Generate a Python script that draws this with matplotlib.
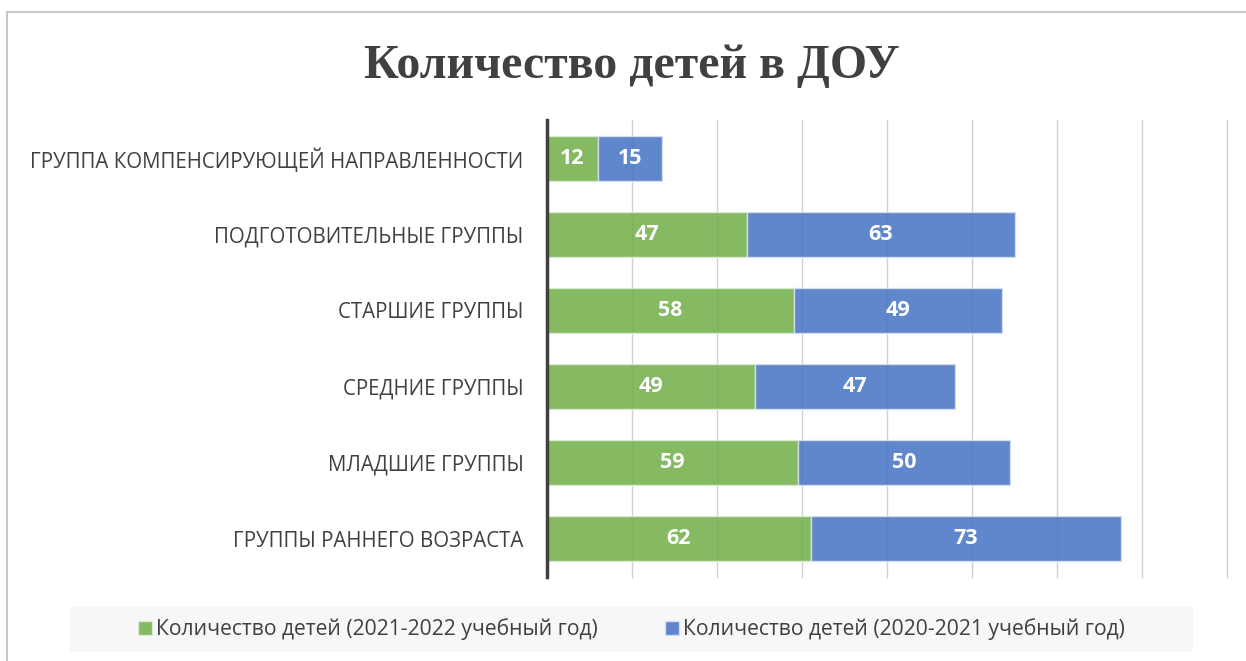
# Horizontal stacked bar chart: number of children in preschool groups
import matplotlib.pyplot as plt
from matplotlib.patches import Rectangle

# Data:
categories = ["ГРУППА КОМПЕНСИРУЮЩЕЙ НАПРАВЛЕННОСТИ", "ПОДГОТОВИТЕЛЬНЫЕ ГРУППЫ",
              "СТАРШИЕ ГРУППЫ", "СРЕДНИЕ ГРУППЫ", "МЛАДШИЕ ГРУППЫ",
              "ГРУППЫ РАННЕГО ВОЗРАСТА"]
children_2122 = [12, 47, 58, 49, 59, 62]
children_2021 = [15, 63, 49, 47, 50, 73]
series_names = ["Количество детей (2021-2022 учебный год)",
                "Количество детей (2020-2021 учебный год)"]

plt.rcParams['font.family'] = ['Open Sans', 'DejaVu Sans']

fig = plt.figure(figsize=(12.46, 6.61), dpi=100)
# outer chart frame
fig.patches.append(Rectangle((7 / 1246, -0.1), 1.2, 1 - 12 / 661 + 0.1,
                             transform=fig.transFigure, fill=False,
                             edgecolor='#C8C8C8', linewidth=1.5))
ax = fig.add_axes([547 / 1246, 1 - 577 / 661, 680 / 1246, 457 / 661])

y = list(range(len(categories)))
green = ax.barh(y, children_2122, height=0.59, color='#70AD47', alpha=0.85,
                edgecolor='#E2F0D9', linewidth=1, label=series_names[0], zorder=3)
blue = ax.barh(y, children_2021, left=children_2122, height=0.59, color='#4472C4',
               alpha=0.85, edgecolor='#DAE3F3', linewidth=1, label=series_names[1], zorder=3)

# value labels
for bars in (green, blue):
    ax.bar_label(bars, label_type='center', color='white', fontsize=15.5,
                 fontweight='bold', zorder=5)

ax.set_xlim(0, 160)
ax.set_ylim(len(categories) - 0.5, -0.5)
ax.set_yticks(y)
ax.set_yticklabels(categories, fontsize=14.8, color='#404040')
ax.tick_params(axis='y', length=0, pad=17)
ax.set_xticks(range(0, 161, 20))
ax.xaxis.grid(True, color='#D0D0D0', linewidth=1, zorder=0)
for gl in ax.get_xgridlines():
    gl.set_clip_on(False)
ax.tick_params(axis='x', labelbottom=False, length=0)
for side in ('top', 'right', 'bottom'):
    ax.spines[side].set_visible(False)
ax.spines['left'].set_color('#404040')
ax.spines['left'].set_linewidth(2.5)
ax.spines['left'].set_zorder(6)

# title
fig.text(632 / 1246, 1 - 66 / 661, "Количество детей в ДОУ", ha='center', va='center',
         fontsize=34.5, fontweight='bold', color='#404040', family='Liberation Serif')

# legend band
fig.patches.append(Rectangle((70 / 1246, 1 - 652 / 661), 1123 / 1246, 45 / 661,
                             transform=fig.transFigure, facecolor='#F7F7F7',
                             edgecolor='none', zorder=0))
leg = fig.legend(loc='center', bbox_to_anchor=(70 / 1246, 1 - 652 / 661, 1123 / 1246, 45 / 661),
                 ncol=2, frameon=False, fontsize=15.2, handlelength=0.65, handleheight=0.65,
                 handletextpad=0.2, columnspacing=3.2, borderaxespad=0)
for t in leg.get_texts():
    t.set_color('#404040')

fig.savefig('out.png', dpi=100)
